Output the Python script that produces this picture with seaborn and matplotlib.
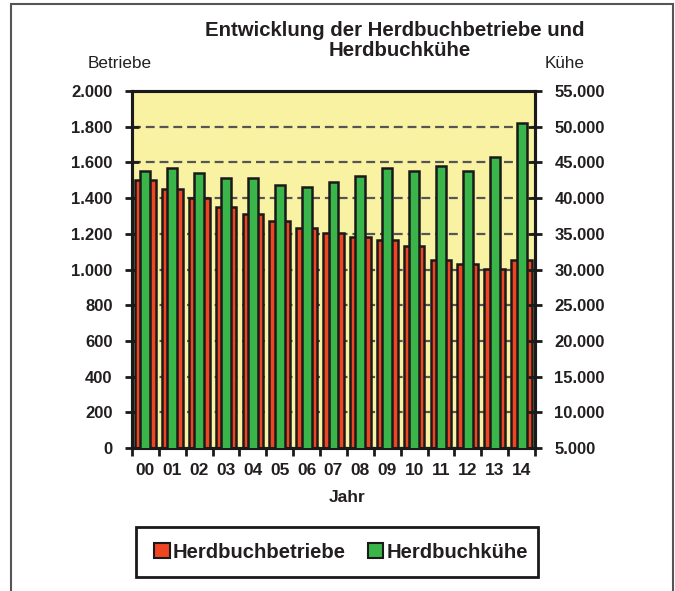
import numpy as np
import pandas as pd
import matplotlib
matplotlib.use("Agg")
import matplotlib.pyplot as plt
import seaborn as sns
from matplotlib.patches import Rectangle, Patch
from matplotlib.ticker import FuncFormatter, FixedLocator

years = ["00", "01", "02", "03", "04", "05", "06", "07", "08", "09", "10", "11", "12", "13", "14"]
betriebe = [1500, 1450, 1400, 1348, 1310, 1270, 1232, 1206, 1180, 1167, 1131, 1053, 1029, 1001, 1053]
kuehe = [43840, 44170, 43520, 42860, 42860, 41880, 41600, 42210, 43140, 44170, 43840, 44450, 43840, 45760, 50520]
left_ticks = list(range(0, 2001, 200))
right_ticks = list(range(5000, 55001, 5000))

RED = "#EF4523"
GREEN = "#3AB54A"
YELLOW = "#F8F2A2"
TXT = "#231F20"

sns.set_theme(style="ticks")
plt.rcParams["font.family"] = ["Liberation Sans", "DejaVu Sans"]

df = pd.DataFrame({"Jahr": years, "Betriebe": betriebe, "Kuehe": kuehe})

W, H = 675, 591
fig = plt.figure(figsize=(W / 100, H / 100), dpi=100)
fig.patch.set_facecolor("white")

def fx(px):
    return px / W

def fy(py):
    return 1 - py / H

ax = fig.add_axes([fx(132), fy(448), fx(535) - fx(132), fy(91) - fy(448)])
ax.set_facecolor(YELLOW)
ax.set_axisbelow(True)

sns.barplot(data=df, x="Jahr", y="Betriebe", color=RED, width=0.77, saturation=1,
            edgecolor="#1a1a1a", linewidth=1.8, ax=ax, zorder=3)
ax2 = ax.twinx()
sns.barplot(data=df, x="Jahr", y="Kuehe", color=GREEN, width=0.37, saturation=1,
            edgecolor="#1a1a1a", linewidth=1.8, ax=ax2, zorder=3)

ax.set_ylim(0, 2000)
ax2.set_ylim(5000, 55000)
ax.set_xlim(-0.5, len(years) - 0.5)

de = lambda v, p: f"{int(v):,}".replace(",", ".")
ax.yaxis.set_major_locator(FixedLocator(left_ticks))
ax.yaxis.set_major_formatter(FuncFormatter(de))
ax2.yaxis.set_major_locator(FixedLocator(right_ticks))
ax2.yaxis.set_major_formatter(FuncFormatter(de))

# x ticks: marks at category boundaries, labels at centres
ax.xaxis.set_major_locator(FixedLocator(np.arange(-0.5, len(years), 1.0)))
ax.xaxis.set_major_formatter(FuncFormatter(lambda v, p: ""))
ax.xaxis.set_minor_locator(FixedLocator(np.arange(len(years))))
ax.set_xticklabels(years, minor=True)
ax.tick_params(axis="x", which="minor", length=0, pad=11, labelsize=12.5, labelcolor=TXT)
ax.tick_params(axis="x", which="major", direction="out", length=6, width=2, color="#1a1a1a")
for lab in ax.get_xticklabels(minor=True):
    lab.set_fontweight("bold")

ax.tick_params(axis="y", direction="inout", length=10, width=2, color="#1a1a1a",
               labelsize=12, labelcolor=TXT, pad=9)
ax2.tick_params(axis="y", direction="inout", length=10, width=2, color="#1a1a1a",
                labelsize=12, labelcolor=TXT, pad=9)
for lab in ax.get_yticklabels() + ax2.get_yticklabels():
    lab.set_fontweight("bold")

ax.yaxis.grid(True, color="#555555", linestyle=(0, (4, 2.2)), linewidth=1.6)
ax.xaxis.grid(False)
ax2.grid(False)

for a in (ax, ax2):
    for s in a.spines.values():
        s.set_visible(True)
        s.set_linewidth(2.2)
        s.set_color("#1a1a1a")
ax.set_xlabel("")
ax.set_ylabel("")
ax2.set_ylabel("")
ax2.set_xlabel("")

# texts
fig.text(fx(395), fy(31), "Entwicklung der Herdbuchbetriebe und", ha="center",
         va="center", fontsize=14.7, fontweight="bold", color=TXT)
fig.text(fx(400), fy(51), "Herdbuchkühe", ha="center",
         va="center", fontsize=14.7, fontweight="bold", color=TXT)
fig.text(fx(120), fy(63), "Betriebe", ha="center", va="center", fontsize=12.3, color=TXT)
fig.text(fx(565), fy(63), "Kühe", ha="center", va="center", fontsize=12.3, color=TXT)
fig.text(fx(347), fy(497), "Jahr", ha="center", va="center", fontsize=12.5,
         fontweight="bold", color=TXT)

# legend box
fig.patches.append(Rectangle((fx(136), fy(577)), fx(538) - fx(136), fy(527) - fy(577),
                             transform=fig.transFigure, facecolor="white",
                             edgecolor="#1a1a1a", linewidth=2))
handles = [Patch(facecolor=RED, edgecolor="#1a1a1a", linewidth=1.5, label="Herdbuchbetriebe"),
           Patch(facecolor=GREEN, edgecolor="#1a1a1a", linewidth=1.5, label="Herdbuchkühe")]
leg = fig.legend(handles=handles, loc="center", bbox_to_anchor=(fx(341), fy(552)),
                 ncol=2, frameon=False, handlelength=0.75, handleheight=0.75,
                 handletextpad=0.15, columnspacing=1.1,
                 prop={"weight": "bold", "size": 14.6})
for t in leg.get_texts():
    t.set_color(TXT)

# outer border
fig.patches.append(Rectangle((fx(11), fy(600)), fx(673) - fx(11), fy(4) - fy(600),
                             transform=fig.transFigure, facecolor="none",
                             edgecolor="#555555", linewidth=1.5, zorder=-1))

fig.savefig("out.png", dpi=100)
